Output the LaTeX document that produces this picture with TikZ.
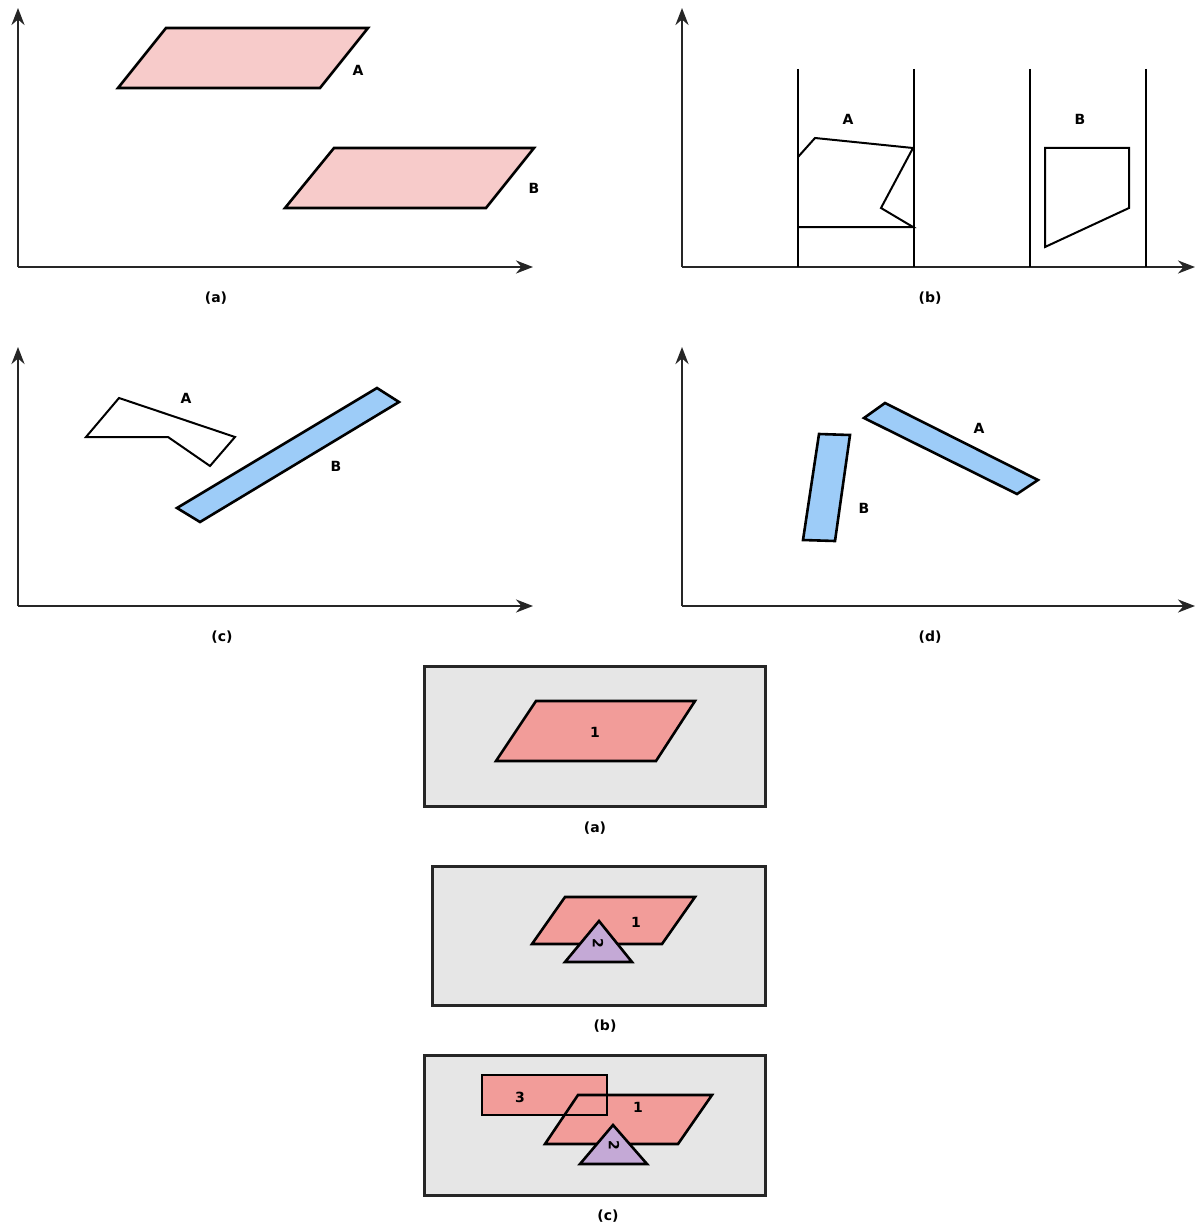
\documentclass[tikz,border=0pt]{standalone}
\usepackage{fontspec}
\setmainfont{DejaVu Sans}
\usetikzlibrary{arrows.meta}
\definecolor{pinkA}{HTML}{F7CBCA}
\definecolor{blueB}{HTML}{9DCCF8}
\definecolor{salmon}{HTML}{F29C99}
\definecolor{lilac}{HTML}{C4A9D6}
\definecolor{boxgray}{HTML}{E6E6E6}
\tikzset{
  axis/.style={line width=2.6pt, draw=black!85, -{Stealth[length=17pt,width=13pt]}},
  shapeline/.style={line width=2.6pt, draw=black, line join=miter},
  thinline/.style={line width=2pt, draw=black, line join=miter},
  lbl/.style={font=\bfseries\fontsize{14}{16}\selectfont, inner sep=0pt},
  frame/.style={line width=3pt, draw=black!85, fill=boxgray},
}
\begin{document}
\begin{tikzpicture}[x=1pt,y=-1pt]
\useasboundingbox (0,0) rectangle (1195,1225);
\fill[white] (0,0) rectangle (1195,1225);

% ---------- panel (a) top-left ----------
\coordinate (oa) at (18,267);
\coordinate (ya) at (18,8);
\coordinate (xa) at (533,267);
\draw[axis] (oa) -- (ya);
\draw[axis] (oa) -- (xa);
\draw[shapeline, fill=pinkA] (118,88) -- (166,28) -- (368,28) -- (320,88) -- cycle;
\draw[shapeline, fill=pinkA] (285,208) -- (334,148) -- (534,148) -- (486,208) -- cycle;
\node[lbl] (aA) at (358,70) {A};
\node[lbl] (aB) at (534,188) {B};
\node[lbl] (capa) at (216,298) {(a)};

% ---------- panel (b) top-right ----------
\coordinate (ob) at (682,267);
\coordinate (yb) at (682,8);
\coordinate (xb) at (1195,267);
\draw[axis] (ob) -- (yb);
\draw[axis] (ob) -- (xb);
\foreach \xx in {798,914,1030,1146}{
  \draw[line width=2.6pt] (\xx,69) -- (\xx,267);
}
\draw[thinline] (798,157) -- (815,138) -- (913,148) -- (881,208) -- (913,227) -- (798,227);
\draw[thinline] (1045,148) -- (1129,148) -- (1129,208) -- (1045,247) -- cycle;
\node[lbl] (bA) at (848,119) {A};
\node[lbl] (bB) at (1080,119) {B};
\node[lbl] (capb) at (930,298) {(b)};

% ---------- panel (c) middle-left ----------
\coordinate (oc) at (18,606);
\coordinate (yc) at (18,347);
\coordinate (xc) at (533,606);
\draw[axis] (oc) -- (yc);
\draw[axis] (oc) -- (xc);
\draw[thinline] (86,437) -- (119,398) -- (235,437) -- (210,466) -- (168,437) -- cycle;
\draw[shapeline, fill=blueB] (177,508) -- (377,388) -- (399,402) -- (200,522) -- cycle;
\node[lbl] (cA) at (186,398) {A};
\node[lbl] (cB) at (336,466) {B};
\node[lbl] (capc) at (222,637) {(c)};

% ---------- panel (d) middle-right ----------
\coordinate (od) at (682,606);
\coordinate (yd) at (682,347);
\coordinate (xd) at (1195,606);
\draw[axis] (od) -- (yd);
\draw[axis] (od) -- (xd);
\draw[shapeline, fill=blueB] (864,418) -- (885,403) -- (1038,480) -- (1017,494) -- cycle;
\draw[shapeline, fill=blueB] (819,434) -- (850,435) -- (835,541) -- (803,540) -- cycle;
\node[lbl] (dA) at (979,428) {A};
\node[lbl] (dB) at (864,508) {B};
\node[lbl] (capd) at (930,637) {(d)};

% ---------- bottom (a) ----------
\draw[frame] (424,666) rectangle (765,806);
\draw[shapeline, fill=salmon] (496,761) -- (536,701) -- (695,701) -- (656,761) -- cycle;
\node[lbl] (e1) at (595,732) {1};
\node[lbl] (cape) at (595,828) {(a)};

% ---------- bottom (b) ----------
\draw[frame] (432,866) rectangle (765,1005);
\draw[shapeline, fill=salmon] (532,944) -- (565,897) -- (695,897) -- (662,944) -- cycle;
\node[lbl] (f1) at (636,922) {1};
\draw[shapeline, fill=lilac] (599,921) -- (632,962) -- (565,962) -- cycle;
\node[lbl, rotate=-90] (f2) at (598,943) {2};
\node[lbl] (capf) at (605,1026) {(b)};

% ---------- bottom (c) ----------
\draw[frame] (424,1055) rectangle (765,1195);
\fill[salmon] (482,1075) rectangle (607,1115);
\fill[salmon] (545,1144) -- (578,1095) -- (712,1095) -- (678,1144) -- cycle;
\draw[shapeline] (482,1075) rectangle (607,1115);
\draw[shapeline] (545,1144) -- (578,1095) -- (712,1095) -- (678,1144) -- cycle;
\node[lbl] (g3) at (520,1097) {3};
\node[lbl] (g1) at (638,1107) {1};
\draw[shapeline, fill=lilac] (613,1125) -- (647,1164) -- (580,1164) -- cycle;
\node[lbl, rotate=-90] (g2) at (614,1145) {2};
\node[lbl] (capg) at (608,1216) {(c)};
\end{tikzpicture}
\end{document}
